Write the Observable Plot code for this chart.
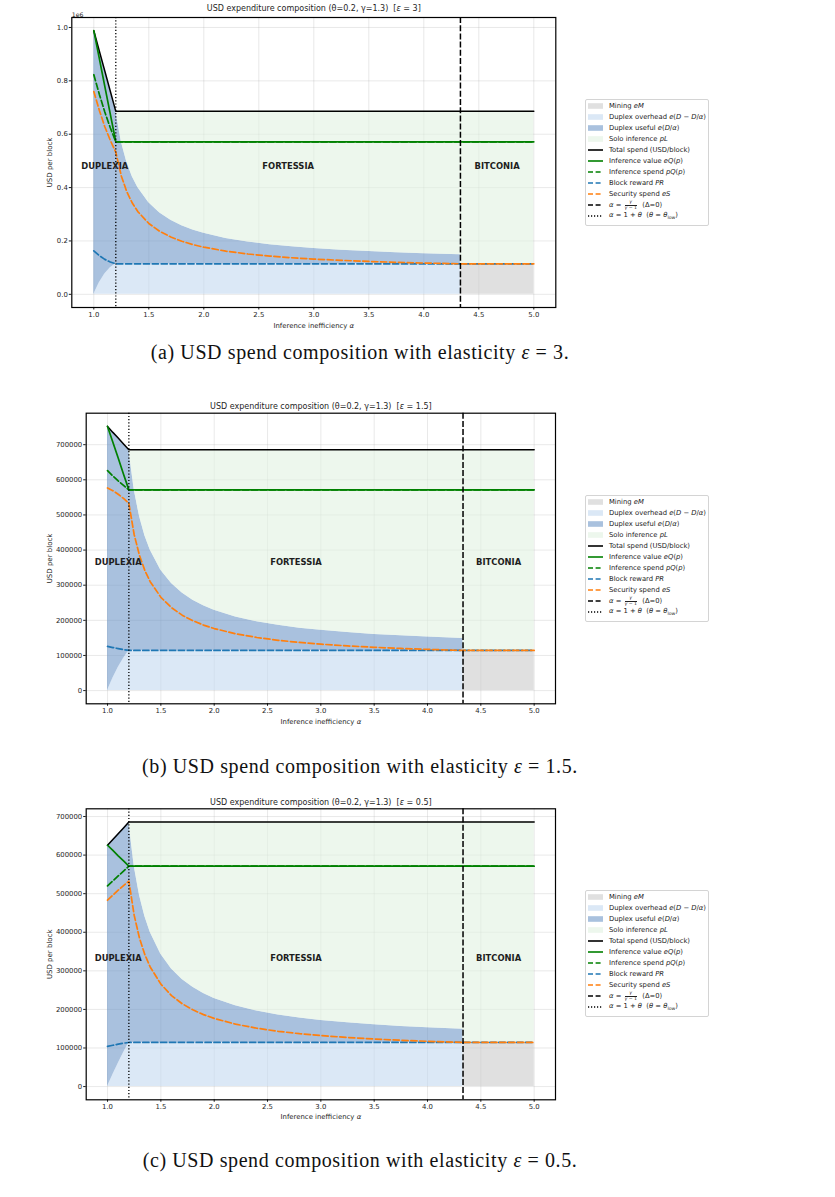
<!DOCTYPE html>
<html>
<head>
<meta charset="utf-8">
<script src="https://cdn.jsdelivr.net/npm/d3@7"></script>
<script src="https://cdn.jsdelivr.net/npm/@observablehq/plot@0.6"></script>
<style>
  body { margin: 0; background: #fff; }
  #page { position: relative; width: 835px; height: 1197px; overflow: hidden; font-family: "DejaVu Sans", sans-serif; }
  #page svg text { white-space: pre; }
  .legend { position: absolute; left: 585px; width: 124px; border: 1px solid #d4d4d4; border-radius: 2px; background: #fff;
            box-sizing: border-box; padding: 0.5px 0 3px 2px; font-size: 6.8px; color: #222; }
  .legend .row { height: 11px; display: flex; align-items: center; white-space: nowrap; }
  .legend .sw { width: 15px; height: 8px; margin-right: 6px; flex: none; }
  .legend i { font-style: italic; }
  .frac { display: inline-flex; flex-direction: column; vertical-align: middle; font-size: 4.6px; text-align: center; line-height: 1.05; margin: 0 1px; }
  .frac span:first-child { border-bottom: 0.6px solid #222; }
  .caption { position: absolute; left: 0; width: 720px; text-align: center; font-family: "Liberation Serif", serif;
             font-size: 20px; letter-spacing: 0.6px; line-height: 24px; color: #111; }
</style>
</head>
<body>
<div id="page"></div>
<script>
// ---- inference inefficiency α grids for the three regimes ----
const alphaDuplexia  = [1.0, 1.05, 1.1, 1.15, 1.2];
const alphaFortessia = [1.2, 1.25, 1.3, 1.35, 1.4, 1.5, 1.6, 1.7, 1.8, 1.9, 2.0, 2.2, 2.4, 2.6, 2.8, 3.0, 3.25, 3.5, 3.75, 4.0, 4.333];
const alphaBitconia  = [4.333, 5.0];

const thetaBoundary = 1.2;    // α = 1 + θ
const deltaBoundary = 4.333;  // α = γ/(γ−1)

// ---- flat levels beyond Duplexia (USD per block) ----
const blockRewardLevel    = 114300;
const inferenceValueLevel = 571400;
const totalSpendLevel     = 685700;

// Fortessia: top of the duplex band (overhead + useful) and security spend eS
const duplexTopFortessia = [685700, 571400, 495300, 440900, 400100, 342900, 304800, 277600, 257200, 241300, 228600,
                            209600, 195900, 185700, 177800, 171500, 165100, 160000, 155900, 152400, 148600];
const securityFortessia  = [532600, 443600, 384300, 341900, 310100, 265600, 235900, 214700, 198900, 186500, 176600,
                            161800, 151200, 143200, 137000, 132100, 127200, 123200, 120000, 117300, 114300];

// ---- Duplexia values, one row per elasticity ----
const elasticities = ["3", "1.5", "0.5"];
const duplexTotal = [
  [988000, 912000, 837000, 761000, 685700],
  [752000, 735000, 719000, 702000, 685700],
  [625500, 640500, 655500, 670500, 685700]
];
const duplexOverhead = [
  [0, 43400, 76100, 99300, 114300],
  [0, 35000, 65400, 91600, 114300],
  [0, 30500, 59500, 87400, 114300]
];
const duplexInferenceValue = [
  [988000, 884000, 779000, 675000, 571400],
  [752000, 707000, 662000, 616000, 571400],
  [625500, 612000, 598000, 585000, 571400]
];
const duplexInferenceSpend = [
  [823000, 750000, 683000, 624000, 571400],
  [626000, 611000, 597000, 584000, 571400],
  [520000, 533000, 546000, 558500, 571400]
];
const duplexBlockReward = [
  [163000, 145000, 131000, 121000, 114300],
  [125800, 122500, 119500, 116800, 114300],
  [104000, 107000, 110000, 112500, 114300]
];
const duplexSecurity = [
  [760000, 690000, 628000, 577000, 532600],
  [577000, 569000, 559000, 547000, 532600],
  [483000, 496000, 509000, 521000, 532600]
];

// ---- region labels ----
const regionNames   = ["DUPLEXIA", "FORTESSIA", "BITCONIA"];
const regionCenters = [1.1, 2.767, 4.667];
const regionLabelY  = [480000, 364500, 333000];

// ---- ticks ----
const xTicks   = [1.0, 1.5, 2.0, 2.5, 3.0, 3.5, 4.0, 4.5, 5.0];
const yTicksA  = [0, 200000, 400000, 600000, 800000, 1000000];
const yTicksBC = [0, 100000, 200000, 300000, 400000, 500000, 600000, 700000];

// ---- legend text ----
const legendLabels = [
  "Mining <i>eM</i>",
  "Duplex overhead <i>e</i>(<i>D</i> − <i>D</i>/<i>α</i>)",
  "Duplex useful <i>e</i>(<i>D</i>/<i>α</i>)",
  "Solo inference <i>pL</i>",
  "Total spend (USD/block)",
  "Inference value <i>eQ</i>(<i>p</i>)",
  "Inference spend <i>pQ</i>(<i>p</i>)",
  "Block reward <i>PR</i>",
  "Security spend <i>eS</i>",
  "<i>α</i> = <span class=\"frac\"><span><i>γ</i></span><span><i>γ</i> − 1</span></span>  (Δ=0)",
  "<i>α</i> = 1 + <i>θ</i>  (<i>θ</i> = <i>θ</i><sub style=\"font-size:4.6px\">low</sub>)"
];

const captions = [
  "(a) USD spend composition with elasticity <i>ε</i> = 3.",
  "(b) USD spend composition with elasticity <i>ε</i> = 1.5.",
  "(c) USD spend composition with elasticity <i>ε</i> = 0.5."
];

// ---- styling ----
const C = {
  mining: "#cbcbcb", overhead: "#c3d9f0", useful: "#7098c8", solo: "#e1f2e1",
  total: "#000000", value: "#008000", spend: "#008000", reward: "#1f77b4", security: "#ff7f0e"
};
const AREA_OPACITY = 0.6;
const DASH = "6.2,2.7";
const LEGEND_DASH = "5,2.6";

const legendSwatches = [
  {type: "area", color: C.mining}, {type: "area", color: C.overhead}, {type: "area", color: C.useful}, {type: "area", color: C.solo},
  {type: "line", color: C.total}, {type: "line", color: C.value}, {type: "line", color: C.spend, dash: LEGEND_DASH},
  {type: "line", color: C.reward, dash: LEGEND_DASH}, {type: "line", color: C.security, dash: LEGEND_DASH},
  {type: "line", color: "#000", dash: LEGEND_DASH}, {type: "line", color: "#000", dash: "1.2,1.8"}
];

const layouts = [
  {top: 0,   height: 340, mt: 17,   mb: 33,   ml: 71.3, mr: 279.7, yDomain: [-49400, 1037400], yTicks: yTicksA,
   fmt: d => (d / 1e6).toFixed(1), ylabDx: -22, titleDy: -9, xlabDy: 18, legendTop: 99, captionMid: 352, offset: "1e6"},
  {top: 390, height: 340, mt: 22.7, mb: 26.7, ml: 85.7, mr: 280,   yDomain: [-37600, 789600], yTicks: yTicksBC,
   fmt: d => String(d), ylabDx: -36.4, titleDy: -7, xlabDy: 17.7, legendTop: 495, captionMid: 766},
  {top: 790, height: 340, mt: 18.3, mb: 30.7, ml: 85.7, mr: 280,   yDomain: [-34300, 720000], yTicks: yTicksBC,
   fmt: d => String(d), ylabDx: -36.4, titleDy: -6.6, xlabDy: 17.4, legendTop: 890, captionMid: 1160}
];

function italicize(svg, ch) {
  d3.select(svg).selectAll("text").each(function () {
    if (this.childElementCount === 0 && this.textContent.includes(ch)) {
      const parts = this.textContent.split(ch);
      this.textContent = "";
      parts.forEach((p, k) => {
        if (k > 0) d3.select(this).append("tspan").attr("font-style", "italic").text(ch);
        d3.select(this).append("tspan").text(p);
      });
    }
  });
}

function buildPanel(i) {
  const L = layouts[i];
  const zip = (xs, f) => xs.map((a, j) => ({a, ...f(j)}));

  // stacked bands
  const overheadRows = zip(alphaDuplexia, j => ({lo: 0, hi: duplexOverhead[i][j]}))
    .concat([{a: deltaBoundary, lo: 0, hi: blockRewardLevel}]);
  const usefulRows = zip(alphaDuplexia, j => ({lo: duplexOverhead[i][j], hi: duplexTotal[i][j]}))
    .concat(zip(alphaFortessia.slice(1), j => ({lo: blockRewardLevel, hi: duplexTopFortessia[j + 1]})));
  const soloRows = zip(alphaFortessia, j => ({lo: duplexTopFortessia[j], hi: totalSpendLevel}))
    .concat(zip(alphaBitconia, () => ({lo: blockRewardLevel, hi: totalSpendLevel})));
  const miningRows = zip(alphaBitconia, () => ({lo: 0, hi: blockRewardLevel}));

  // lines
  const withTail = (vals, tail) => zip(alphaDuplexia, j => ({v: vals[j]})).concat([{a: 5.0, v: tail}]);
  const totalRows    = withTail(duplexTotal[i], totalSpendLevel);
  const valueRows    = withTail(duplexInferenceValue[i], inferenceValueLevel);
  const spendRows    = withTail(duplexInferenceSpend[i], inferenceValueLevel);
  const rewardRows   = withTail(duplexBlockReward[i], blockRewardLevel);
  const securityRows = zip(alphaDuplexia, j => ({v: duplexSecurity[i][j]}))
    .concat(zip(alphaFortessia.slice(1), j => ({v: securityFortessia[j + 1]})))
    .concat([{a: 5.0, v: blockRewardLevel}]);

  const title = `USD expenditure composition (θ=0.2, γ=1.3)  [ε = ${elasticities[i]}]`;

  const marks = [
    // grid
    Plot.ruleX(xTicks, {stroke: "#b0b0b0", strokeOpacity: 0.35, strokeWidth: 0.8}),
    Plot.ruleY(L.yTicks, {stroke: "#b0b0b0", strokeOpacity: 0.35, strokeWidth: 0.8}),
    // bands
    Plot.areaY(miningRows,   {x: "a", y1: "lo", y2: "hi", fill: C.mining,   fillOpacity: AREA_OPACITY}),
    Plot.areaY(overheadRows, {x: "a", y1: "lo", y2: "hi", fill: C.overhead, fillOpacity: AREA_OPACITY}),
    Plot.areaY(usefulRows,   {x: "a", y1: "lo", y2: "hi", fill: C.useful,   fillOpacity: AREA_OPACITY}),
    Plot.areaY(soloRows,     {x: "a", y1: "lo", y2: "hi", fill: C.solo,     fillOpacity: AREA_OPACITY}),
    // series
    Plot.lineY(totalRows,    {x: "a", y: "v", stroke: C.total, strokeWidth: 1.5}),
    Plot.lineY(valueRows,    {x: "a", y: "v", stroke: C.value, strokeWidth: 1.7}),
    Plot.lineY(spendRows,    {x: "a", y: "v", stroke: C.spend, strokeWidth: 1.7, strokeDasharray: DASH}),
    Plot.lineY(rewardRows,   {x: "a", y: "v", stroke: C.reward, strokeWidth: 1.7, strokeDasharray: DASH}),
    Plot.lineY(securityRows, {x: "a", y: "v", stroke: C.security, strokeWidth: 1.7, strokeDasharray: DASH}),
    // regime boundaries
    Plot.ruleX([thetaBoundary], {stroke: "#000", strokeWidth: 1.3, strokeDasharray: "1.2,2"}),
    Plot.ruleX([deltaBoundary], {stroke: "#000", strokeWidth: 1.5, strokeDasharray: "6,2.2"}),
    // regime names
    Plot.text(regionNames, {x: (d, j) => regionCenters[j], y: () => regionLabelY[i], text: d => d,
      fontWeight: "bold", fontSize: 8.4, fill: "#1e1e1e", lineAnchor: "middle"}),
    // axes
    Plot.axisX({ticks: xTicks, tickFormat: d => d.toFixed(1), tickSize: 2.5, tickPadding: 2, fontSize: 6.9, label: null}),
    Plot.axisY({ticks: L.yTicks, tickFormat: L.fmt, tickSize: 2.5, tickPadding: 1.5, fontSize: 6.9, label: null}),
    Plot.frame({stroke: "#000", strokeWidth: 1.2}),
    // titles
    Plot.text([title], {frameAnchor: "top", text: d => d, lineAnchor: "middle", dy: L.titleDy, fontSize: 8, fill: "#1e1e1e"}),
    Plot.text(["Inference inefficiency α"], {frameAnchor: "bottom", text: d => d, lineAnchor: "middle", dy: L.xlabDy, fontSize: 6.9, fill: "#1e1e1e"}),
    Plot.text(["USD per block"], {frameAnchor: "left", text: d => d, rotate: -90, dx: L.ylabDx, lineAnchor: "middle", textAnchor: "middle", fontSize: 7, fill: "#1e1e1e"})
  ];
  if (L.offset) {
    marks.push(Plot.text([L.offset], {frameAnchor: "top-left", text: d => d, textAnchor: "start", lineAnchor: "bottom", dy: -1, fontSize: 6.2, fill: "#1e1e1e"}));
  }

  const svg = Plot.plot({
    width: 835, height: L.height,
    marginTop: L.mt, marginBottom: L.mb, marginLeft: L.ml, marginRight: L.mr,
    x: {domain: [0.8, 5.2]},
    y: {domain: L.yDomain},
    style: {fontFamily: "DejaVu Sans, sans-serif", color: "#1e1e1e", background: "transparent", overflow: "visible"},
    marks
  });
  italicize(svg, "ε");
  italicize(svg, "α");
  svg.style.position = "absolute";
  svg.style.left = "0px";
  svg.style.top = L.top + "px";
  return svg;
}

function buildLegend(i) {
  const div = document.createElement("div");
  div.className = "legend";
  div.style.top = layouts[i].legendTop + "px";
  legendLabels.forEach((lab, k) => {
    const s = legendSwatches[k];
    const sw = s.type === "area"
      ? `<svg class="sw" viewBox="0 0 15 8"><rect x="0" y="1.2" width="15" height="5.6" fill="${s.color}" fill-opacity="${AREA_OPACITY}"/></svg>`
      : `<svg class="sw" viewBox="0 0 15 8"><line x1="0" x2="15" y1="4" y2="4" stroke="${s.color}" stroke-width="1.6" ${s.dash ? `stroke-dasharray="${s.dash}"` : ""}/></svg>`;
    const row = document.createElement("div");
    row.className = "row";
    row.innerHTML = sw + `<span style="white-space:pre">${lab}</span>`;
    div.appendChild(row);
  });
  return div;
}

const page = document.getElementById("page");
layouts.forEach((L, i) => {
  page.appendChild(buildPanel(i));
  page.appendChild(buildLegend(i));
  const cap = document.createElement("div");
  cap.className = "caption";
  cap.style.top = (L.captionMid - 12) + "px";
  cap.innerHTML = captions[i];
  page.appendChild(cap);
});
</script>
</body>
</html>
